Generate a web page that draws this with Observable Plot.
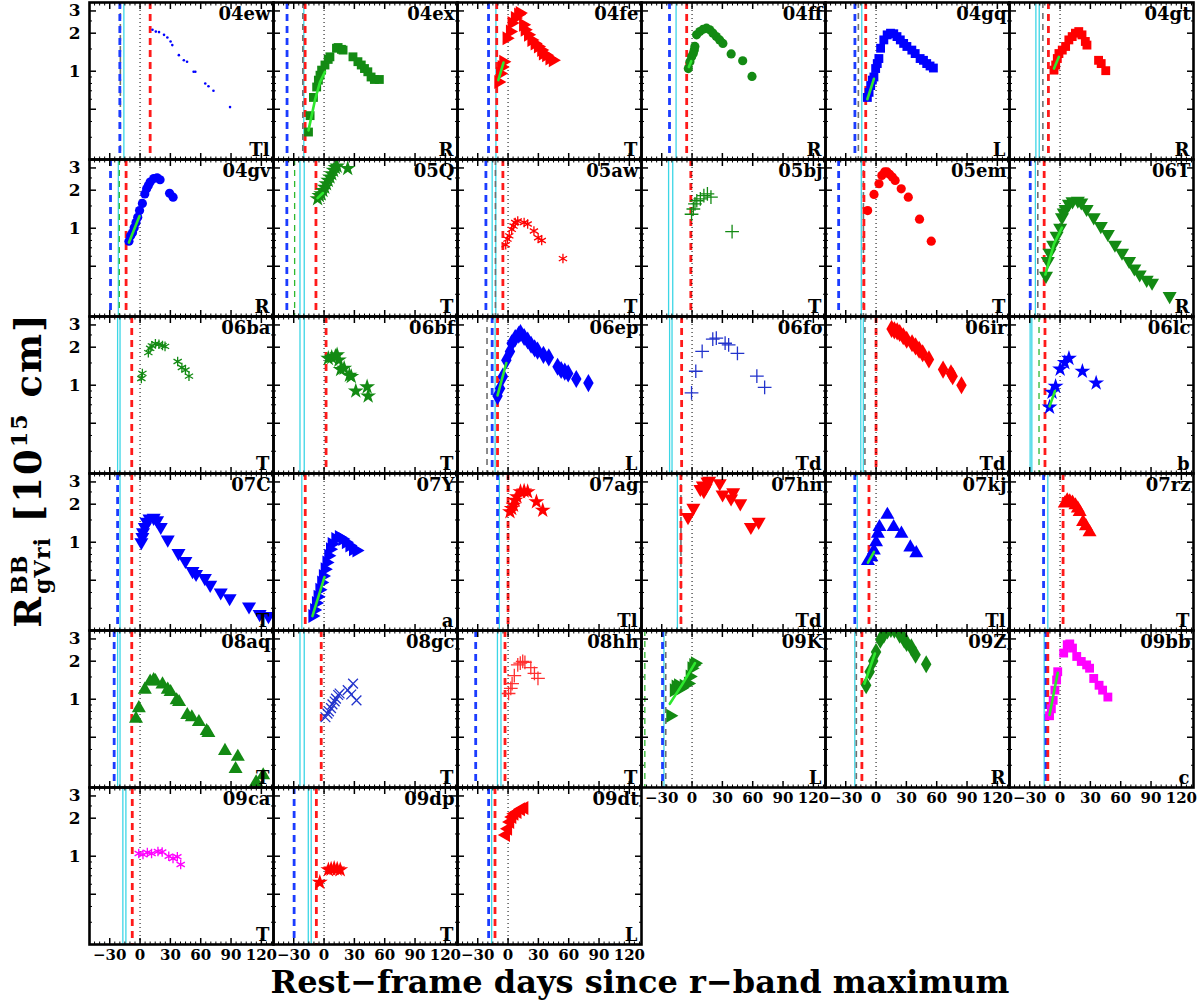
<!DOCTYPE html>
<html><head><meta charset="utf-8">
<script src="https://cdn.jsdelivr.net/npm/d3@7"></script>
<script src="https://cdn.jsdelivr.net/npm/@observablehq/plot@0.6"></script>
<style>
body{margin:0;background:#fff;font-family:"DejaVu Serif",serif;}
#wrap{position:relative;width:1200px;height:1000px;overflow:hidden;}
#ylab{position:absolute;left:31px;top:470px;transform:translate(-50%,-50%) rotate(-90deg);font-weight:bold;font-size:37px;letter-spacing:2px;white-space:nowrap;line-height:1;}
.ss{display:inline-flex;flex-direction:column;font-size:0.6em;line-height:1.05;vertical-align:middle;margin-left:1px;letter-spacing:1px;}
#xlab{position:absolute;top:964px;left:0;width:1280px;text-align:center;font-weight:bold;font-size:32px;white-space:nowrap;line-height:37px;}
</style></head>
<body><div id="wrap"><div id="chart"></div>
<div id="ylab">R<span class="ss"><span>BB</span><span>gVri</span></span> [10<sup style="font-size:0.6em">15</sup> cm]</div>
<div id="xlab">Rest−frame days since r−band maximum</div></div>
<script>
// ---------- data ----------
const names = ["04ew","04ex","04fe","04ff","04gq","04gt","04gv","05Q","05aw","05bj","05em","06T","06ba","06bf","06ep","06fo","06ir","06lc","07C","07Y","07ag","07hn","07kj","07rz","08aq","08gc","08hh","09K","09Z","09bb","09ca","09dp","09dt"];
const types = ["Tl","R","T","R","L","R","R","T","T","T","T","R","T","T","L","Td","Td","b","T","a","Tl","Td","Tl","T","T","T","T","L","R","c","T","T","L"];
const xTicks = [-30,0,30,60,90,120];
const yTicks = [0.5,1,2,3];

// radius [1e15 cm] vs rest-frame day
const sn04ew = [[12.3,2.13],[15.6,2.06],[18.8,2.04],[23.7,1.94],[27,1.85],[30.2,1.72],[31.9,1.61],[38.4,1.34],[43.3,1.22],[46.5,1.19],[53,0.99],[54.7,0.99],[64.5,0.8],[67.7,0.76],[72.6,0.7],[89,0.52]];
const sn04ex = [[-15.4,0.33],[-13.8,0.445],[-10.5,0.62],[-7.3,0.75],[-5.6,0.85],[-4,0.93],[-2.4,1.02],[0.9,1.12],[4.1,1.24],[5.8,1.3],[12.3,1.52],[13.9,1.54],[17.2,1.49],[18.8,1.47],[28.6,1.3],[33.5,1.19],[36.8,1.12],[40,1.05],[43.3,0.99],[46.5,0.9],[49.8,0.86],[54.7,0.86]];
const sn04fe = [[-9.6,0.82],[-7.9,0.96],[-6.3,1.08],[-4.7,1.19],[-1.4,1.82],[1.9,2.06],[3.5,2.41],[6.8,2.64],[10,2.81],[11.6,2.89],[14.9,2.33],[16.5,2.13],[19.8,1.94],[23.1,1.77],[26.3,1.66],[29.6,1.57],[32.8,1.47],[34.5,1.38],[37.7,1.34],[41,1.26],[44.3,1.22]];
const sn04ff = [[-3.7,1.05],[-2.1,1.19],[-0.4,1.3],[1.2,1.38],[2.2,1.47],[2.8,1.57],[4.5,1.94],[7.7,2.06],[11,2.15],[14.3,2.19],[17.5,2.13],[20.7,2],[24,1.88],[27.3,1.77],[30.5,1.66],[38.7,1.37],[50.1,1.21],[59.3,0.91]];
const sn04gq = [[-8.6,0.62],[-6.9,0.68],[-5.3,0.77],[-3.7,0.85],[-2.1,0.9],[-0.4,1.05],[1.2,1.15],[2.8,1.26],[4.5,1.52],[7.7,1.77],[11,1.94],[14.3,2],[17.5,1.98],[20.7,1.88],[24,1.77],[27.3,1.66],[30.5,1.57],[35.4,1.47],[38.7,1.38],[43.6,1.26],[46.9,1.22],[50.1,1.15],[53.4,1.1],[56.7,1.06]];
const sn04gt = [[-6,1.02],[-4.3,1.12],[-2.7,1.26],[-1.1,1.38],[2.2,1.47],[5.5,1.57],[8.7,1.77],[12,1.88],[15.2,2],[18.5,2.06],[21.7,1.94],[25,1.72],[26.6,1.61],[38.1,1.22],[40.7,1.15],[45.2,1.01]];
const sn04gv = [[-11,0.79],[-9.3,0.87],[-7.5,0.92],[-5.8,1.01],[-4,1.11],[-2.3,1.22],[-0.5,1.38],[2.3,1.57],[4.7,1.87],[6.5,2.05],[8.2,2.18],[10,2.32],[13.5,2.47],[16.9,2.51],[19.8,2.42],[29.2,1.89],[32.7,1.76]];
const sn05Q = [[-6.4,1.71],[-4.6,1.81],[-2.8,1.87],[-1.1,1.99],[0.7,2.11],[2.4,2.25],[4.2,2.39],[5.9,2.54],[7.6,2.7],[9.4,2.87],[11.2,3.02],[12.9,3.1],[23.4,2.97]];
const sn05aw = [[-2.3,0.74],[-0.6,0.82],[1.2,0.87],[3.6,0.98],[5.4,1.04],[7.1,1.11],[9.6,1.14],[15.9,1.11],[19.4,1.08],[25.6,0.95],[29.8,0.84],[33.3,0.8],[54.3,0.575]];
const sn05bj = [[-0.5,1.29],[1.3,1.42],[2.9,1.56],[4.7,1.65],[8.2,1.71],[11.7,1.81],[15.2,1.87],[18.7,1.76],[39.6,0.94]];
const sn05em = [[-8.3,1.38],[-2,1.85],[2.9,2.25],[5.7,2.62],[8.5,2.79],[10.9,2.79],[13.4,2.67],[16.1,2.54],[18.9,2.39],[24.9,2.05],[31.9,1.76],[43,1.18],[54.6,0.79]];
const sn06T = [[-13.9,0.42],[-12.1,0.55],[-10.4,0.64],[-6.8,0.74],[-3.4,0.87],[0.1,1.01],[1.9,1.22],[3.6,1.33],[5.4,1.42],[8.8,1.56],[12.3,1.63],[17.6,1.65],[21,1.6],[26.3,1.42],[33.3,1.22],[40.3,1.04],[47.3,0.9],[54.3,0.74],[61.3,0.64],[68.3,0.55],[73.5,0.48],[78.8,0.43],[85.7,0.39],[91,0.37],[108.4,0.29]];
const sn06ba = [[1.3,1.13],[2.3,1.24],[8.2,1.81],[10,1.96],[11.7,2.05],[15.2,2.13],[18.7,2.11],[22.2,2.06],[24.7,2.03],[37.2,1.54],[41.4,1.38],[44.9,1.32],[48.4,1.18]];
const sn06bf = [[4.2,1.63],[7.6,1.66],[11.2,1.69],[12.9,1.74],[14.7,1.58],[16.4,1.33],[19.9,1.36],[25.1,1.2],[26.9,1.17],[31.4,0.9],[42.6,0.97],[43.6,0.82]];
const sn06ep = [[-10.4,0.82],[-7.9,0.94],[-5.1,1.17],[-1.7,1.58],[1.9,1.85],[3.6,2.15],[7.1,2.36],[10.6,2.51],[12.3,2.59],[15.9,2.41],[19.4,2.26],[22.8,2.09],[26.3,1.96],[29.2,1.88],[35,1.74],[40.3,1.66],[49,1.4],[52.5,1.32],[56.1,1.28],[59.5,1.24],[67.5,1.12],[79.5,1.04]];
const sn06fo = [[-0.5,0.87],[3.7,1.29],[10,1.85],[20.5,2.32],[24,2.36],[32.7,2.15],[36.2,2.09],[44.9,1.79],[64.1,1.18],[71.8,0.96]];
const sn06ir = [[15.4,2.79],[18.1,2.72],[20.9,2.67],[23.4,2.59],[26.9,2.44],[30.3,2.29],[35.6,2.15],[39.1,2.03],[42.6,1.91],[46.1,1.79],[52.3,1.6],[66.3,1.33],[74.1,1.24],[75.8,1.18],[84.5,1]];
const sn06lc = [[-10.4,0.67],[-7.9,0.88],[-4.4,0.98],[0.1,1.34],[4.7,1.51],[8.8,1.63],[22.1,1.29],[35.7,1.04]];
const sn07C = [[1.3,1],[2.3,1.1],[2.9,1.2],[4.7,1.32],[6.5,1.45],[9.3,1.54],[13.5,1.56],[16.9,1.49],[20.5,1.32],[27.4,1.05],[38,0.82],[44.9,0.71],[51.9,0.59],[55.4,0.56],[64.1,0.52],[69.4,0.46],[79.8,0.4],[88.6,0.36],[107.8,0.31],[118.3,0.27],[127,0.26]];
const sn07Y = [[-11.5,0.26],[-9.8,0.29],[-8,0.33],[-6.4,0.37],[-4.6,0.42],[-2.8,0.48],[-1.1,0.54],[0.7,0.61],[2.4,0.69],[4.2,0.78],[5.9,0.88],[7.6,0.97],[11.2,1.06],[14.7,1.1],[18.1,1.06],[21.6,1],[25.1,0.94],[28.7,0.88],[32.1,0.86]];
const sn07ag = [[1.9,1.74],[3.6,1.85],[5.4,1.96],[7.1,2.15],[8.8,2.29],[12.3,2.51],[15.9,2.54],[19.4,2.51],[28.1,2.09],[34.3,1.79]];
const sn07hn = [[-4,1.58],[1.3,1.87],[8.2,2.64],[10.7,2.81],[11.7,2.54],[13.5,2.7],[15.2,3.02],[16.9,3.06],[27.4,2.93],[30.2,2.39],[38.6,2.22],[40.7,2.48],[47.7,2.03],[58.2,1.32],[65.9,1.45]];
const sn07kj = [[-8,0.71],[-4.6,0.76],[-2.2,0.86],[0,1],[1.8,1.17],[3.4,1.32],[11.2,1.65],[17.4,1.32],[25.1,1.17],[33.9,0.91],[39.8,0.82]];
const sn07rz = [[4.7,2.03],[7.1,2.15],[9.6,2.11],[12.3,2.06],[15.2,1.96],[17.6,1.85],[19.4,1.74],[22.8,1.45],[25.6,1.34],[29.2,1.2]];
const sn08aq = [[-4,0.7],[-1.2,0.85],[4.7,1.19],[10,1.38],[13.5,1.42],[15.2,1.39],[22.2,1.31],[27.4,1.19],[30.2,1.14],[36.2,0.98],[38.6,0.95],[46.7,0.75],[51.2,0.72],[58.2,0.66],[65.9,0.56],[67.6,0.54],[84,0.39],[96.7,0.35],[94.5,0.28],[114.8,0.22],[121.8,0.25]];
const sn08gc = [[1.4,0.72],[3.4,0.77],[4.9,0.8],[6.9,0.85],[8.3,0.91],[10.5,0.96],[11.8,1.01],[14,1.08],[15.4,1.11],[23.4,1.18],[26.9,1.09],[28.7,1.33],[32.1,0.98]];
const sn08hh = [[0.5,1.11],[2.7,1.22],[4,1.33],[6.2,1.54],[9.6,1.87],[12.1,1.93],[14.5,1.99],[16.7,1.96],[22.5,1.78],[26.1,1.6],[29.6,1.46]];
const sn09K = [[-21.5,0.74],[-18,1.18],[-16.2,1.26],[-13.8,1.29],[-11,1.22],[-8.2,1.28],[-4,1.33],[-2.3,1.51],[-0.5,1.76],[1.3,1.87],[2.9,1.93]];
const sn09Z = [[-9.8,1.29],[-6.3,1.65],[-2.8,2.01],[0,2.36],[4.2,2.96],[7.7,3.25],[11.2,3.5],[14.7,3.6],[18.1,3.56],[23.4,3.25],[27.9,2.96],[30.3,2.79],[34.9,2.57],[39.1,2.25],[49.6,1.89]];
const sn09bb = [[-10.4,0.74],[-8.6,0.84],[-6.8,0.98],[-5.1,1.18],[-3.4,1.42],[-2.3,1.65],[3.6,2.32],[7.1,2.7],[9.6,2.74],[12.3,2.54],[16.5,2.18],[21,1.99],[26.3,1.87],[29.2,1.76],[33.3,1.46],[38.6,1.29],[42.1,1.18],[47.3,1.04]];
const sn09ca = [[-1.3,1.05],[2.9,1.03],[7.2,1.07],[11.4,1.05],[17.7,1.09],[21.9,1.08],[28.4,1],[32.6,0.96],[36.9,0.99],[40.2,0.86]];
const sn09dp = [[-4.2,0.62],[4.3,0.78],[7,0.79],[10,0.8],[13,0.79],[16,0.78]];
const sn09dt = [[-2.1,1.47],[0,1.65],[2.1,1.87],[4.2,2.04],[6.3,2.17],[9.3,2.24],[12.7,2.35],[16.1,2.41]];

// early-time fits
const fit04ex = [[-15.4,0.34],[-9,0.59],[-4,0.82],[0.9,0.99]];
const fit04fe = [[-9.6,0.85],[-4.5,1.17]];
const fit04ff = [[-3.2,1.08],[-0.8,1.2]];
const fit04gq = [[-8.6,0.6],[-2.1,0.87]];
const fit04gt = [[-6,1.05],[-1.1,1.3]];
const fit04gv = [[-11,0.77],[-0.5,1.25]];
const fit05Q = [[-6.4,1.73],[-1.1,1.9]];
const fit06T = [[-14.5,0.43],[-6,0.75],[1.9,1.01]];
const fit06ep = [[-10.4,0.83],[-1.7,1.5]];
const fit06lc = [[-10.4,0.68],[-5,0.9]];
const fit07Y = [[-11.5,0.26],[0.4,0.53]];
const fit07kj = [[-8,0.69],[-2,0.84]];
const fit09K = [[-22,0.92],[-10,1.3],[2.9,1.93]];
const fit09Z = [[-11.5,1.33],[-1.1,2.3]];
const fit09bb = [[-10.4,0.75],[-2.3,1.62]];

// epochs of vertical reference lines (days), aligned with names
const blueEpoch  = [-20,-36.6,-19.3,-22.3,-20.9,null,-29.2,-36.8,-21.9,null,-37,-29.5,null,null,-15.7,null,null,null,-22.2,null,-10.4,null,-21,-16.3,-25.6,null,-32,-29.2,null,-14,null,-29.6,-19.2];
const cyanEpochA = [-16,-20,-12,-15.8,-14.1,-23.9,-21.5,-23.8,-15.7,-23.2,-14.6,-24.4,-22.2,-23.8,-12.8,-22.2,-15.1,-29.6,-19.8,-22,-8.6,-14.5,-18.6,-12.1,-22.2,-23.8,-10.5,-27.8,-21,-15.7,-17,-15.6,-16.2];
const cyanEpochB = [null,null,null,null,null,-20.6,null,-19.6,-12.1,-19.1,null,null,-19.8,-19.6,null,-19.8,-12.6,-27.9,null,null,null,null,null,null,-19.8,-19.6,-7,null,null,null,-14,-12.7,null];
const redEpoch   = [10,-18.7,-11.2,-5.3,-10.2,-11.5,-13.8,-8,-5.1,-1.2,-12,-15.7,-8.2,2,-10.4,-10.3,0,-14.9,-8.2,-18.6,0,-11,-7,3,-8.2,-2.8,-3,null,-14,-12.1,-7.7,-7.6,-12.9];
const grayEpoch  = [-19.5,-21,null,null,-17.5,-17,null,null,-12.5,null,-12.5,-22,null,null,-20.8,null,-11,null,null,null,null,-11,null,null,null,null,null,-26,-19.5,null,null,null,null];
const greenEpoch = [null,null,null,null,null,null,-20.5,-29.1,null,null,null,null,null,null,null,null,null,-20.8,null,null,null,null,null,null,null,null,null,-46.7,null,null,null,null,null];
const maxEpoch = 0;

// ---------- styles ----------
const s3 = Math.sqrt(3);
function tri(dir){return {draw(ctx,size){const y=-Math.sqrt(size/(s3*3));let p=[[0,y*2],[-s3*y,-y],[s3*y,-y]];
  p=p.map(([a,b])=>dir==="down"?[a,-b]:dir==="right"?[-b,a]:dir==="left"?[b,a]:[a,b]);
  ctx.moveTo(p[0][0],p[0][1]);ctx.lineTo(p[1][0],p[1][1]);ctx.lineTo(p[2][0],p[2][1]);ctx.closePath();}};}
const SYM = {
  dot:["circle",1.3,true], circle:["circle",4.6,true], square:["square",5,true], star:["star",5,true],
  diamond:["diamond",5.5,true], asterisk:["asterisk",4.5,false], plus:["plus",4.5,false], times:["times",4.5,false],
  up:[tri("up"),5.2,true], down:[tri("down"),5.2,true], right:[tri("right"),5.2,true], left:[tri("left"),5.2,true]
};
const B="#0000ff", G="#138a13", R="#ff0000", M="#ff00ff";
const markerOf = {"04ew":"dot","04ex":"square","04fe":"right","04ff":"circle","04gq":"square","04gt":"square","04gv":"circle","05Q":"star","05aw":"asterisk","05bj":"plus","05em":"circle","06T":"down","06ba":"asterisk","06bf":"star","06ep":"diamond","06fo":"plus","06ir":"diamond","06lc":"star","07C":"down","07Y":"right","07ag":"star","07hn":"down","07kj":"up","07rz":"up","08aq":"up","08gc":"times","08hh":"plus","09K":"right","09Z":"diamond","09bb":"square","09ca":"asterisk","09dp":"star","09dt":"left"};
const colorOf = {"04ew":B,"04ex":G,"04fe":R,"04ff":G,"04gq":B,"04gt":R,"04gv":B,"05Q":G,"05aw":R,"05bj":G,"05em":R,"06T":G,"06ba":G,"06bf":G,"06ep":B,"06fo":"#2233cc","06ir":R,"06lc":B,"07C":B,"07Y":B,"07ag":R,"07hn":R,"07kj":B,"07rz":R,"08aq":G,"08gc":"#2233cc","08hh":"#ff3030","09K":G,"09Z":G,"09bb":M,"09ca":M,"09dp":R,"09dt":R};

// ---------- tables ----------
const seriesList = [sn04ew,sn04ex,sn04fe,sn04ff,sn04gq,sn04gt,sn04gv,sn05Q,sn05aw,sn05bj,sn05em,sn06T,sn06ba,sn06bf,sn06ep,sn06fo,sn06ir,sn06lc,sn07C,sn07Y,sn07ag,sn07hn,sn07kj,sn07rz,sn08aq,sn08gc,sn08hh,sn09K,sn09Z,sn09bb,sn09ca,sn09dp,sn09dt];
const fitsBySN = {"04ex":fit04ex,"04fe":fit04fe,"04ff":fit04ff,"04gq":fit04gq,"04gt":fit04gt,"04gv":fit04gv,"05Q":fit05Q,"06T":fit06T,"06ep":fit06ep,"06lc":fit06lc,"07Y":fit07Y,"07kj":fit07kj,"09K":fit09K,"09Z":fit09Z,"09bb":fit09bb};
const sne = names.map((n,i)=>({name:n,type:types[i],col:i%6,row:Math.floor(i/6)}));
const fitRows = [];
sne.forEach(s=>{(fitsBySN[s.name]||[]).forEach(([d,r])=>fitRows.push({sn:s.name,day:d,R:r,col:s.col,row:s.row}));});
function lineRows(arr){const out=[];arr.forEach((d,i)=>{if(d!==null)out.push({day:d,col:sne[i].col,row:sne[i].row});});return out;}
const maxRows = sne.map(s=>({day:maxEpoch,col:s.col,row:s.row}));

const F = {fx:"col", fy:"row"};
const marks = [];
marks.push(Plot.ruleX(lineRows(cyanEpochA),{x:"day",...F,stroke:"#3cd6e6",strokeWidth:1.3}));
marks.push(Plot.ruleX(lineRows(cyanEpochB),{x:"day",...F,stroke:"#3cd6e6",strokeWidth:1.3}));
marks.push(Plot.ruleX(lineRows(greenEpoch),{x:"day",...F,stroke:"#2eb82e",strokeWidth:1.3,strokeDasharray:"6,5"}));
marks.push(Plot.ruleX(lineRows(grayEpoch),{x:"day",...F,stroke:"#707070",strokeWidth:1.6,strokeDasharray:"6,5"}));
marks.push(Plot.ruleX(lineRows(blueEpoch),{x:"day",...F,stroke:"#1b3cff",strokeWidth:2.8,strokeDasharray:"7,5"}));
marks.push(Plot.ruleX(lineRows(redEpoch),{x:"day",...F,stroke:"#ff1a1a",strokeWidth:2.8,strokeDasharray:"7,5"}));
marks.push(Plot.ruleX(maxRows,{x:"day",...F,stroke:"#000",strokeWidth:1,strokeDasharray:"1,3"}));

sne.forEach((s,i)=>{
  const pts = seriesList[i].map(([d,r])=>({day:d,R:r,col:s.col,row:s.row}));
  const [sym,r,filled] = SYM[markerOf[s.name]];
  const c = colorOf[s.name];
  marks.push(Plot.dot(pts,{x:"day",y:"R",...F,symbol:sym,r,
    fill: filled? c : "none", stroke: filled? "none" : c, strokeWidth: filled?0:1.3, clip:true}));
});
marks.push(Plot.line(fitRows,{x:"day",y:"R",z:"sn",...F,stroke:"#2ee82e",strokeWidth:2.6}));

const font = {fontFamily:"DejaVu Serif", fontWeight:"bold"};
marks.push(Plot.text(sne,{...F,text:"name",frameAnchor:"top-right",dx:-3,dy:5,fontSize:18,...font}));
marks.push(Plot.text(sne,{...F,text:"type",frameAnchor:"bottom-right",dx:-4,dy:-4,fontSize:18,...font}));

// ticks on all four sides (inward)
const minorX = d3.range(-45,131,5).filter(v=>!xTicks.includes(v));
const minorY = [0.3,0.4,0.6,0.7,0.8,0.9,1.5,2.5];
const noLab = ()=>"";
marks.push(Plot.axisX(xTicks,{anchor:"bottom",tickSize:-6,tickFormat:noLab,facetAnchor:null,strokeWidth:1.5}));
marks.push(Plot.axisX(xTicks,{anchor:"top",tickSize:-6,tickFormat:noLab,facetAnchor:null,strokeWidth:1.5}));
marks.push(Plot.axisX(minorX,{anchor:"bottom",tickSize:-2.5,tickFormat:noLab,facetAnchor:null}));
marks.push(Plot.axisX(minorX,{anchor:"top",tickSize:-2.5,tickFormat:noLab,facetAnchor:null}));
marks.push(Plot.axisY(yTicks,{anchor:"left",tickSize:-7,tickFormat:noLab,facetAnchor:null,strokeWidth:1.5}));
marks.push(Plot.axisY(yTicks,{anchor:"right",tickSize:-7,tickFormat:noLab,facetAnchor:null,strokeWidth:1.5}));
marks.push(Plot.axisY(minorY,{anchor:"left",tickSize:-3,tickFormat:noLab,facetAnchor:null}));
marks.push(Plot.axisY(minorY,{anchor:"right",tickSize:-3,tickFormat:noLab,facetAnchor:null}));
// tick labels
marks.push(Plot.axisX(xTicks,{anchor:"bottom",tickSize:0,tickPadding:5,facetAnchor:"bottom-empty",fontSize:15,...font,label:null}));
marks.push(Plot.axisY(yTicks,{anchor:"left",tickSize:0,tickPadding:9,facetAnchor:"left",fontSize:17,...font,label:null,tickFormat:d=>String(d)}));
marks.push(Plot.frame({stroke:"#000",strokeWidth:2.6}));

const chart = Plot.plot({
  width:1200, height:968,
  marginLeft:88, marginRight:7, marginTop:2, marginBottom:24,
  style:{fontFamily:"DejaVu Serif",background:"#fff",overflow:"visible"},
  x:{domain:[-50,132],label:null,axis:null},
  y:{type:"log",domain:[0.2,3.5],label:null,axis:null},
  fx:{domain:[0,1,2,3,4,5],padding:0,axis:null},
  fy:{domain:[0,1,2,3,4,5],padding:0,axis:null},
  marks
});
document.getElementById("chart").appendChild(chart);
</script>
</body></html>
